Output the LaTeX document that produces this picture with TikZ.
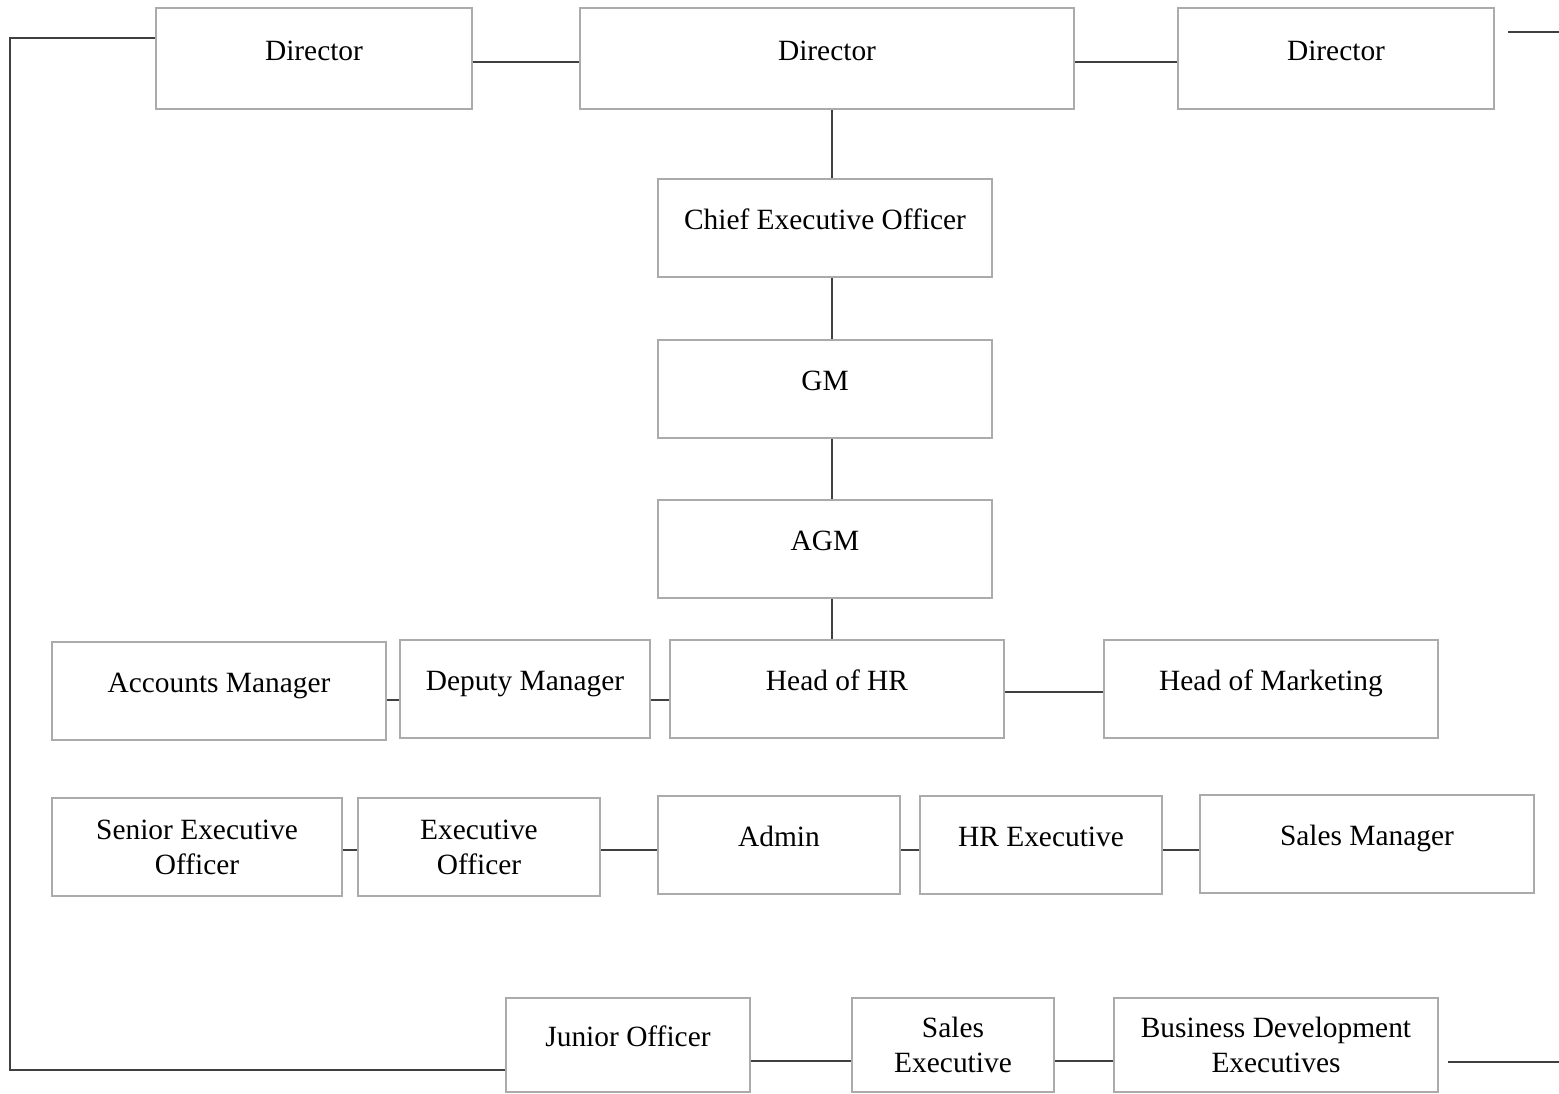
\documentclass[tikz,border=0pt]{standalone}
\usepackage{fontspec}
\setmainfont{Liberation Serif}
\begin{document}
\begin{tikzpicture}[x=0.5pt,y=-0.5pt,
    box/.style={draw=black!33,line width=1pt,minimum height=49pt,inner sep=0pt,
        font=\fontsize{14.7}{17.5}\selectfont},
    one/.style={text height=10pt,text depth=8.2pt},
    two/.style={align=center},
    link/.style={draw=black!75,line width=0.8pt}]
    \useasboundingbox (0,0) rectangle (1559,1093);

    % board
    \node[box,one,minimum width=158pt,minimum height=50.5pt] (dirl) at (314,58.5) {Director};
    \node[box,one,minimum width=247pt,minimum height=50.5pt] (dirm) at (827,58.5) {Director};
    \node[box,one,minimum width=158pt,minimum height=50.5pt] (dirr) at (1336,58.5) {Director};

    % management
    \node[box,one,minimum width=167pt] (ceo) at (825,228) {Chief Executive Officer};
    \node[box,one,minimum width=167pt] (gm) at (825,389) {GM};
    \node[box,one,minimum width=167pt] (agm) at (825,549) {AGM};

    % heads
    \node[box,one,minimum width=167pt] (accm) at (219,691) {Accounts Manager};
    \node[box,one,minimum width=125pt] (depm) at (525,689) {Deputy Manager};
    \node[box,one,minimum width=167pt] (hhr) at (837,689) {Head of HR};
    \node[box,one,minimum width=167pt] (hmkt) at (1271,689) {Head of Marketing};

    % officers
    \node[box,two,minimum width=145pt] (seo) at (197,847) {Senior Executive\\Officer};
    \node[box,two,minimum width=121pt] (eo) at (479,847) {Executive\\Officer};
    \node[box,one,minimum width=121pt] (adm) at (779,845) {Admin};
    \node[box,one,minimum width=121pt] (hre) at (1041,845) {HR Executive};
    \node[box,one,minimum width=167pt] (slm) at (1367,844) {Sales Manager};

    % juniors
    \node[box,one,minimum width=122pt,minimum height=47pt] (jo) at (628,1045) {Junior Officer};
    \node[box,two,minimum width=101pt,minimum height=47pt] (sle) at (953,1045) {Sales\\Executive};
    \node[box,two,minimum width=162pt,minimum height=47pt] (bde) at (1276,1045) {Business Development\\Executives};

    \coordinate (spine) at (832,0);
    \coordinate (topa) at (1508,32);
    \coordinate (topb) at (1559,32);
    \coordinate (bota) at (1448,1062);
    \coordinate (botb) at (1559,1062);
    \coordinate (loopa) at (10,38);
    \coordinate (loopb) at (10,1070);

    \draw[link] ([yshift=-1.75pt]dirl.east) -- ([yshift=-1.75pt]dirm.west);
    \draw[link] ([yshift=-1.75pt]dirm.east) -- ([yshift=-1.75pt]dirr.west);
    \draw[link] (topa) -- (topb);
    \draw[link] (dirm.south -| spine) -- (ceo.north -| spine);
    \draw[link] (ceo.south -| spine) -- (gm.north -| spine);
    \draw[link] (gm.south -| spine) -- (agm.north -| spine);
    \draw[link] (agm.south -| spine) -- (hhr.north -| spine);
    \draw[link] (dirl.west |- loopa) -- (loopa) -- (loopb) -- (jo.west |- loopb);

    \draw[link] ([yshift=-4.5pt]accm.east) -- ([yshift=-5.5pt]depm.west);
    \draw[link] ([yshift=-5.5pt]depm.east) -- ([yshift=-5.5pt]hhr.west);
    \draw[link] ([yshift=-1.5pt]hhr.east) -- ([yshift=-1.5pt]hmkt.west);

    \draw[link] ([yshift=-1.5pt]seo.east) -- ([yshift=-1.5pt]eo.west);
    \draw[link] ([yshift=-1.5pt]eo.east) -- ([yshift=-2.5pt]adm.west);
    \draw[link] ([yshift=-2.5pt]adm.east) -- ([yshift=-2.5pt]hre.west);
    \draw[link] ([yshift=-2.5pt]hre.east) -- ([yshift=-3pt]slm.west);

    \draw[link] ([yshift=-8pt]jo.east) -- ([yshift=-8pt]sle.west);
    \draw[link] ([yshift=-8pt]sle.east) -- ([yshift=-8pt]bde.west);
    \draw[link] (bota) -- (botb);
  \end{tikzpicture}
\end{document}
